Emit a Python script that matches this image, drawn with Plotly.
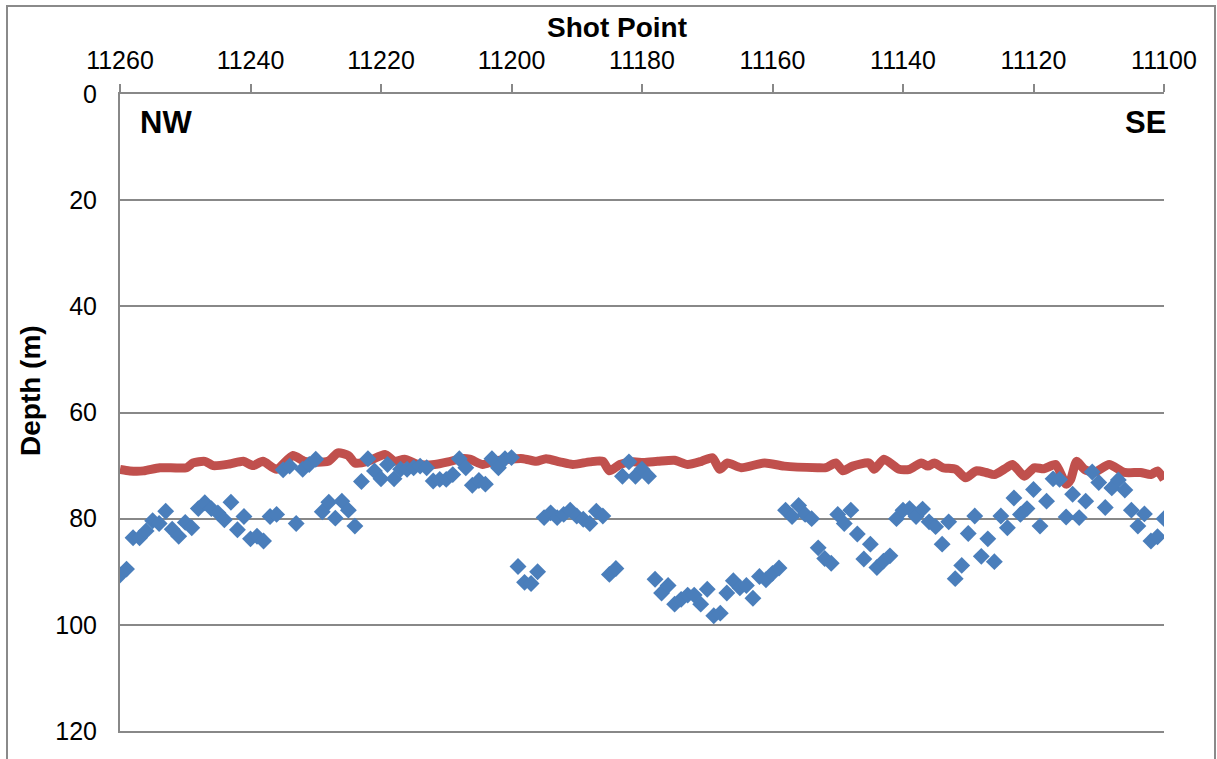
import plotly.graph_objects as go

# ---- data ----
shot_points = list(range(11260, 11099, -1))
depth_points = [
    90.6, 89.5, 83.6, 83.6, 82.3, 80.4, 80.9, 78.6, 82.0, 83.3,   # 11260-11251
    80.7, 81.7, 78.1, 77.0, 78.1, 78.9, 80.2, 76.9, 82.1, 79.6,   # 11250-11241
    83.8, 83.3, 84.2, 79.6, 79.2, 70.8, 70.1, 80.9, 70.7, 69.8,   # 11240-11231
    68.8, 78.7, 76.9, 79.9, 76.7, 78.4, 81.4, 73.0, 68.7, 71.0,   # 11230-11221
    72.5, 69.8, 72.5, 70.7, 70.7, 70.4, 70.1, 70.4, 72.9, 72.6,   # 11220-11211
    72.6, 71.7, 68.7, 70.4, 73.7, 72.8, 73.5, 68.7, 70.4, 68.7,   # 11210-11201
    68.5, 89.0, 92.0, 92.2, 90.0, 79.8, 78.9, 79.8, 79.2, 78.4,   # 11200-11191
    79.5, 80.1, 80.9, 78.6, 79.5, 90.5, 89.4, 72.0, 69.3, 72.0,   # 11190-11181
    70.7, 72.0, 91.4, 94.0, 92.6, 96.1, 95.2, 94.4, 94.4, 96.1,   # 11180-11171
    93.3, 98.3, 97.8, 94.0, 91.7, 93.0, 92.6, 95.0, 90.9, 91.5,   # 11170-11161
    90.3, 89.3, 78.4, 79.6, 77.5, 79.2, 80.0, 85.5, 87.5, 88.4,   # 11160-11151
    79.2, 80.9, 78.4, 82.9, 87.6, 84.8, 89.2, 88.0, 87.0, 80.0,   # 11150-11141
    78.4, 78.1, 79.6, 78.2, 80.6, 81.5, 84.8, 80.6, 91.3, 88.8,   # 11140-11131
    82.8, 79.5, 87.1, 83.8, 88.1, 79.5, 81.7, 76.1, 79.2, 78.1,   # 11130-11121
    74.5, 81.4, 76.7, 72.5, 72.6, 79.7, 75.4, 79.8, 76.7, 71.2,   # 11120-11111
    73.2, 77.9, 74.2, 72.7, 74.6, 78.4, 81.4, 79.1, 84.2, 83.4,   # 11110-11101
    80.0,                                                        # 11100
]

seabed_sp = [
    11260, 11258.5, 11256.4, 11253.9, 11249.8, 11248.8, 11247, 11245.7, 11243.2,
    11241.1, 11239.6, 11238.1, 11236, 11233.5, 11231.7, 11228.1, 11226.6, 11225,
    11224, 11222, 11219.4, 11217.9, 11216.4, 11214.3, 11211.8, 11209.7, 11207.7,
    11206.4, 11204.4, 11202.8, 11200.3, 11198.2, 11196.2, 11194.7, 11192.6,
    11190.6, 11188, 11186, 11185, 11183.4, 11181.4, 11179.8, 11177.6, 11175,
    11173, 11170.9, 11169.2, 11168.1, 11166.9, 11164.8, 11161.2, 11158.2,
    11153.1, 11151.8, 11150.3, 11149.2, 11147.7, 11145.2, 11144.4, 11142.9,
    11140.6, 11139, 11137.2, 11136.2, 11135.2, 11133.9, 11131.9, 11130.4,
    11128.8, 11127.3, 11126, 11124.5, 11123.2, 11121.4, 11119.9, 11118.4,
    11116.6, 11115, 11114.3, 11113.4, 11112.2, 11110.7, 11108.4, 11106.1,
    11103.6, 11102, 11101, 11100,
]
seabed_depth = [
    70.7, 71.0, 71.0, 70.4, 70.4, 69.5, 69.2, 70.0, 69.7,
    69.2, 70.0, 69.2, 70.7, 68.1, 69.2, 69.2, 67.6, 68.1,
    69.5, 69.2, 67.9, 69.2, 68.8, 69.8, 69.8, 69.3, 68.7,
    68.8, 69.8, 69.2, 68.8, 68.7, 69.2, 68.7, 69.3,
    69.8, 69.3, 69.2, 71.0, 69.8, 69.3, 69.4, 69.2, 69.0,
    69.8, 69.2, 68.5, 70.7, 69.5, 70.4, 69.5, 70.1,
    70.4, 70.4, 69.5, 71.0, 70.1, 69.5, 70.7, 68.8,
    70.7, 70.7, 69.5, 70.1, 69.5, 70.4, 70.7, 72.3,
    71.0, 71.3, 71.7, 70.7, 69.8, 72.0, 70.4, 70.6,
    69.8, 73.5, 72.6, 69.2, 70.7, 71.3, 69.8, 71.3,
    71.3, 71.7, 71.0, 72.6,
]

x_ticks = [11260, 11240, 11220, 11200, 11180, 11160, 11140, 11120, 11100]
y_ticks = [0, 20, 40, 60, 80, 100, 120]

FONT = "Liberation Sans, Arial, sans-serif"
GRID = "#888888"

fig = go.Figure()
fig.add_trace(go.Scatter(
    x=seabed_sp, y=seabed_depth, mode="lines",
    line=dict(color="#C0504D", width=9, shape="spline", smoothing=0.6),
    hoverinfo="skip", showlegend=False,
))
fig.add_trace(go.Scatter(
    x=shot_points, y=depth_points, mode="markers",
    marker=dict(symbol="diamond", size=13, color="#4A7EBB", line=dict(width=0)),
    showlegend=False,
))

fig.update_layout(
    width=1217, height=759,
    margin=dict(l=120, r=53, t=94, b=28),
    paper_bgcolor="white", plot_bgcolor="white",
    font=dict(family=FONT, color="black", size=25),
    xaxis=dict(
        side="top", range=[11260, 11100], tickvals=x_ticks,
        ticktext=[str(v) for v in x_ticks],
        showgrid=False, zeroline=False,
        showline=True, mirror=True, linecolor=GRID, linewidth=2,
        ticks="outside", ticklen=8, tickwidth=2, tickcolor=GRID,
        tickfont=dict(size=25, family=FONT),
        ticklabelstandoff=5,
    ),
    yaxis=dict(
        range=[120, 0], tickvals=y_ticks,
        showgrid=True, gridcolor=GRID, gridwidth=2,
        zeroline=False, showline=True, linecolor=GRID, linewidth=2,
        ticks="", tickfont=dict(size=25, family=FONT),
        ticklabelstandoff=16,
    ),
    shapes=[dict(
        type="rect", xref="paper", yref="paper",
        x0=(7 - 120) / 1044, x1=(1215 - 120) / 1044,
        y0=-0.2, y1=(731 - 6) / 637,
        line=dict(color="#8a8a8a", width=2), fillcolor="rgba(0,0,0,0)",
        layer="below",
    )],
    annotations=[
        dict(text="<b>Shot Point</b>", xref="paper", yref="paper",
             x=(617 - 120) / 1044, y=(731 - 27) / 637, xanchor="center", yanchor="middle",
             showarrow=False, font=dict(size=28, family=FONT)),
        dict(text="<b>Depth (m)</b>", xref="paper", yref="paper",
             x=(31 - 120) / 1044, y=(731 - 391) / 637, xanchor="center", yanchor="middle",
             textangle=-90, showarrow=False, font=dict(size=28, family=FONT)),
        dict(text="<b>NW</b>", xref="paper", yref="paper",
             x=(166 - 120) / 1044, y=(731 - 123) / 637, xanchor="center", yanchor="middle",
             showarrow=False, font=dict(size=31, family=FONT)),
        dict(text="<b>SE</b>", xref="paper", yref="paper",
             x=(1168 - 120) / 1044, y=(731 - 123) / 637, xanchor="right", yanchor="middle",
             showarrow=False, font=dict(size=31, family=FONT)),
    ],
)

fig.write_html("out.html", config={"displayModeBar": False},
               post_script="document.body.style.margin='0';")
